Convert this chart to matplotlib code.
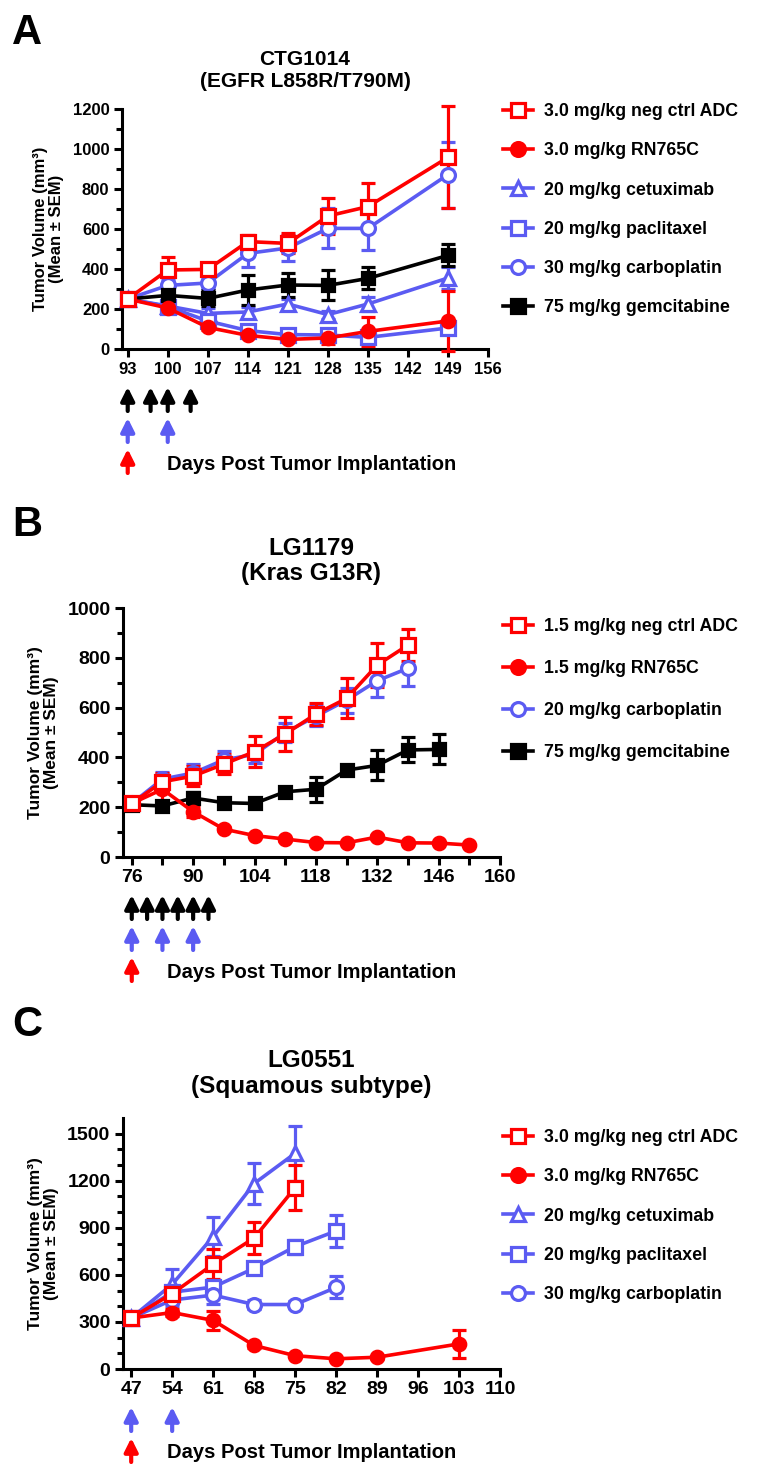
import matplotlib
matplotlib.use('Agg')
import matplotlib.pyplot as plt
import matplotlib.transforms as mtrans
from matplotlib.lines import Line2D

plt.rcParams['font.family'] = ['Liberation Sans', 'DejaVu Sans']
plt.rcParams['font.weight'] = 'bold'

RED = '#ff0000'
BLUE = '#5b5bf2'
BLACK = '#000000'

# ---------------- data: panel A (CTG1014) ----------------
a_days = [93, 100, 107, 114, 121, 128, 135, 149]
a_negctrl = [250, 395, 398, 537, 528, 665, 712, 958]
a_negctrl_err = [25, 65, 18, 35, 50, 90, 118, 255]
a_rn765c = [250, 205, 108, 68, 48, 55, 88, 140]
a_rn765c_err = [20, 20, 12, 10, 10, 30, 72, 150]
a_cetux = [250, 215, 178, 185, 225, 172, 225, 355]
a_cetux_err = [20, 25, 25, 25, 25, 20, 35, 55]
a_pacli = [250, 212, 140, 92, 72, 70, 58, 105]
a_pacli_err = [20, 20, 15, 12, 10, 10, 12, 30]
a_carbo = [250, 318, 330, 478, 505, 603, 603, 872]
a_carbo_err = [20, 30, 25, 70, 65, 100, 108, 165]
a_gem = [250, 268, 253, 295, 320, 318, 353, 468]
a_gem_err = [20, 30, 40, 75, 60, 75, 55, 55]
a_black_arrows = [93, 97, 100, 104]
a_blue_arrows = [93, 100]
a_red_arrows = [93]

# ---------------- data: panel B (LG1179) ----------------
b_days = [76, 83, 90, 97, 104, 111, 118, 125, 132, 139]
b_negctrl = [215, 302, 325, 373, 423, 494, 574, 637, 771, 851]
b_negctrl_err = [20, 35, 40, 40, 63, 68, 45, 80, 90, 63]
b_carbo = [215, 313, 337, 390, 412, 500, 565, 630, 708, 758]
b_carbo_err = [20, 30, 35, 35, 35, 40, 40, 50, 67, 72]
b_rn_days = [76, 83, 90, 97, 104, 111, 118, 125, 132, 139, 146, 153]
b_rn765c = [215, 272, 182, 112, 86, 72, 58, 57, 80, 57, 56, 48]
b_rn765c_err = [15, 55, 20, 8, 6, 6, 5, 5, 8, 5, 5, 5]
b_gem_days = [76, 83, 90, 97, 104, 111, 118, 125, 132, 139, 146]
b_gem = [210, 205, 237, 218, 215, 262, 272, 349, 368, 430, 432]
b_gem_err = [15, 20, 25, 12, 12, 15, 50, 20, 60, 50, 60]
b_black_arrows = [76, 79.5, 83, 86.5, 90, 93.5]
b_blue_arrows = [76, 83, 90]
b_red_arrows = [76]

# ---------------- data: panel C (LG0551) ----------------
c_days = [47, 54, 61, 68, 75]
c_negctrl = [325, 480, 668, 835, 1156]
c_negctrl_err = [15, 40, 95, 100, 145]
c_cetux = [325, 540, 844, 1182, 1375]
c_cetux_err = [15, 100, 125, 128, 175]
c_days6 = [47, 54, 61, 68, 75, 82]
c_pacli = [325, 490, 522, 642, 780, 880]
c_pacli_err = [15, 40, 40, 35, 45, 100]
c_carbo = [325, 440, 471, 411, 411, 520]
c_carbo_err = [15, 40, 55, 30, 20, 70]
c_rn_days = [47, 54, 61, 68, 75, 82, 89, 103]
c_rn765c = [325, 360, 310, 150, 85, 65, 75, 160]
c_rn765c_err = [15, 20, 60, 15, 10, 8, 10, 90]
c_blue_arrows = [47, 54]
c_red_arrows = [47]

W, H = 771, 1472
fig = plt.figure(figsize=(W / 100, H / 100), dpi=100)


def px_axes(left, top, right, bottom):
    # axes placed by pixel box
    return fig.add_axes([left / W, 1 - bottom / H, (right - left) / W, (bottom - top) / H])


def series(ax, x, y, err, color, marker, filled, ms=10):
    face = color if filled else 'white'
    ax.errorbar(x, y, yerr=err, color=color, lw=2.6, marker=marker, ms=ms,
                mfc=face, mec=color, mew=2.3, capsize=5, capthick=2.3,
                elinewidth=2.3, clip_on=False, zorder=3)


def style(ax, xlim, ylim, xticks, xlabels, yticks, yminor, fs, yfs):
    ax.set_xlim(*xlim)
    ax.set_ylim(*ylim)
    for s in ['top', 'right']:
        ax.spines[s].set_visible(False)
    for s in ['left', 'bottom']:
        ax.spines[s].set_linewidth(2.2)
    ax.set_xticks(xticks)
    ax.set_xticklabels(xlabels, fontsize=fs, fontweight='bold')
    ax.set_yticks(yticks)
    ax.set_yticklabels([str(v) for v in yticks], fontsize=fs, fontweight='bold')
    ax.set_yticks(yminor, minor=True)
    ax.tick_params(axis='both', which='major', direction='out', length=6, width=2.2, pad=3)
    ax.tick_params(axis='y', which='minor', direction='out', length=4, width=2.2)
    ax.set_ylabel('Tumor Volume (mm³)\n(Mean ± SEM)', fontsize=yfs, fontweight='bold',
                  labelpad=6, linespacing=1.1)


def arrows(ax, days, row, color, axis_bottom_px):
    # rows of dosing arrows under the x axis
    tr = mtrans.blended_transform_factory(ax.transData, fig.transFigure)
    top = axis_bottom_px + 38 + row * 31
    bot = top + 24
    for d in days:
        ax.annotate('', xy=(d, 1 - top / H), xytext=(d, 1 - bot / H), xycoords=tr,
                    textcoords=tr, annotation_clip=False,
                    arrowprops=dict(arrowstyle='-|>,head_width=0.4,head_length=0.8',
                                    color=color, lw=3, shrinkA=0, shrinkB=0))


def days_text(axis_bottom_px, row):
    y = axis_bottom_px + 38 + row * 31 + 15
    fig.text(167 / W, 1 - y / H, 'Days Post Tumor Implantation', fontsize=14.5,
             fontweight='bold', va='center', ha='left')


def legend(ax, entries, x_px, y_px, spacing, fs=12.8):
    handles = [Line2D([], [], color=c, lw=2.6, marker=m, ms=10,
                      mfc=(c if f else 'white'), mec=c, mew=2.3) for c, m, f, _ in entries]
    labels = [e[3] for e in entries]
    ax.legend(handles, labels, loc='upper left', bbox_to_anchor=(x_px / W, 1 - y_px / H),
              bbox_transform=fig.transFigure, frameon=False, handlelength=1.7,
              handletextpad=0.6, labelspacing=spacing,
              prop={'size': fs, 'weight': 'bold'}, borderaxespad=0)


# ================= panel A =================
axA = px_axes(122, 109, 488, 349)
series(axA, a_days, a_cetux, a_cetux_err, BLUE, '^', False)
series(axA, a_days, a_pacli, a_pacli_err, BLUE, 's', False)
series(axA, a_days, a_carbo, a_carbo_err, BLUE, 'o', False)
series(axA, a_days, a_gem, a_gem_err, BLACK, 's', True, ms=9)
series(axA, a_days, a_rn765c, a_rn765c_err, RED, 'o', True, ms=9)
series(axA, a_days, a_negctrl, a_negctrl_err, RED, 's', False)
a_ticks = list(range(93, 157, 7))
style(axA, (92, 156), (0, 1200), a_ticks, [str(t) for t in a_ticks],
      list(range(0, 1201, 200)), list(range(100, 1200, 200)), 12, 12)
axA.set_title('CTG1014\n(EGFR L858R/T790M)', fontsize=15, fontweight='bold', pad=16,
              linespacing=1.2)
legend(axA, [(RED, 's', False, '3.0 mg/kg neg ctrl ADC'),
             (RED, 'o', True, '3.0 mg/kg RN765C'),
             (BLUE, '^', False, '20 mg/kg cetuximab'),
             (BLUE, 's', False, '20 mg/kg paclitaxel'),
             (BLUE, 'o', False, '30 mg/kg carboplatin'),
             (BLACK, 's', True, '75 mg/kg gemcitabine')], 496, 96, 1.25)
arrows(axA, a_black_arrows, 0, BLACK, 349)
arrows(axA, a_blue_arrows, 1, BLUE, 349)
arrows(axA, a_red_arrows, 2, RED, 349)
days_text(349, 2)
fig.text(12 / W, 1 - 33 / H, 'A', fontsize=30, fontweight='bold', va='center')

# ================= panel B =================
axB = px_axes(123, 608, 500, 857)
series(axB, b_days, b_carbo, b_carbo_err, BLUE, 'o', False)
series(axB, b_gem_days, b_gem, b_gem_err, BLACK, 's', True, ms=9)
series(axB, b_rn_days, b_rn765c, b_rn765c_err, RED, 'o', True, ms=9)
series(axB, b_days, b_negctrl, b_negctrl_err, RED, 's', False)
b_ticks = list(range(76, 161, 7))
b_labels = [str(t) if (t - 76) % 14 == 0 else '' for t in b_ticks]
style(axB, (74, 160), (0, 1000), b_ticks, b_labels,
      list(range(0, 1001, 200)), list(range(100, 1000, 200)), 14, 12.5)
axB.set_title('LG1179\n(Kras G13R)', fontsize=17.5, fontweight='bold', pad=20,
              linespacing=1.15)
legend(axB, [(RED, 's', False, '1.5 mg/kg neg ctrl ADC'),
             (RED, 'o', True, '1.5 mg/kg RN765C'),
             (BLUE, 'o', False, '20 mg/kg carboplatin'),
             (BLACK, 's', True, '75 mg/kg gemcitabine')], 496, 611, 1.4)
arrows(axB, b_black_arrows, 0, BLACK, 857)
arrows(axB, b_blue_arrows, 1, BLUE, 857)
arrows(axB, b_red_arrows, 2, RED, 857)
days_text(857, 2)
fig.text(12 / W, 1 - 525 / H, 'B', fontsize=30, fontweight='bold', va='center')

# ================= panel C =================
axC = px_axes(123, 1118, 500, 1369)
series(axC, c_days, c_cetux, c_cetux_err, BLUE, '^', False)
series(axC, c_days6, c_pacli, c_pacli_err, BLUE, 's', False)
series(axC, c_days6, c_carbo, c_carbo_err, BLUE, 'o', False)
series(axC, c_rn_days, c_rn765c, c_rn765c_err, RED, 'o', True, ms=9)
series(axC, c_days, c_negctrl, c_negctrl_err, RED, 's', False)
c_ticks = list(range(47, 111, 7))
style(axC, (45.6, 110), (0, 1600), c_ticks, [str(t) for t in c_ticks],
      list(range(0, 1501, 300)), [v for v in range(100, 1600, 100) if v % 300], 14, 12.5)
axC.set_title('LG0551\n(Squamous subtype)', fontsize=17.5, fontweight='bold', pad=18,
              linespacing=1.15)
legend(axC, [(RED, 's', False, '3.0 mg/kg neg ctrl ADC'),
             (RED, 'o', True, '3.0 mg/kg RN765C'),
             (BLUE, '^', False, '20 mg/kg cetuximab'),
             (BLUE, 's', False, '20 mg/kg paclitaxel'),
             (BLUE, 'o', False, '30 mg/kg carboplatin')], 496, 1122, 1.25)
arrows(axC, c_blue_arrows, 0, BLUE, 1369)
arrows(axC, c_red_arrows, 1, RED, 1369)
days_text(1369, 1)
fig.text(12 / W, 1 - 1025 / H, 'C', fontsize=30, fontweight='bold', va='center')

fig.savefig('out.png', dpi=100)
